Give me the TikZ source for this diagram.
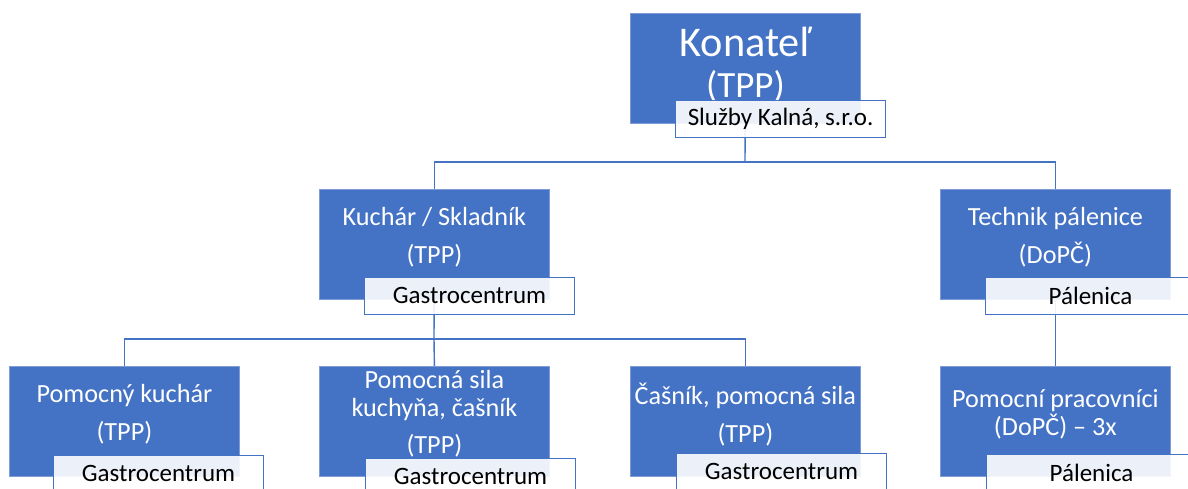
\documentclass[tikz,border=0pt]{standalone}
\usepackage{fontspec}
\setmainfont{Carlito}
\usetikzlibrary{positioning,backgrounds}

\definecolor{boxblue}{HTML}{4472C4}
\definecolor{boxedge}{HTML}{7F9CD6}

\tikzset{
  unit/.style={draw=boxedge, line width=0.8, fill=boxblue, minimum width=230, minimum height=110,
    inner sep=0, anchor=north west},
  unittext/.style={text=white, align=center, font=\fontsize{26.2}{28.5}\selectfont},
  place/.style={draw=boxblue, line width=1.1, fill=white, fill opacity=0.9, text opacity=1,
    minimum width=210, minimum height=37, inner sep=0, anchor=north west,
    font=\fontsize{25}{28}\selectfont},
  link/.style={draw=boxblue, line width=1.4}
}

\begin{document}
\begin{tikzpicture}[x=1pt, y=-1pt]
  % Picture frame, the same size as the reference
  \useasboundingbox (0,0) rectangle (1188,488);
  \clip (0,0) rectangle (1188,488);

  % Top: the manager
  \node[unit] (boss) at (630,13) {};
  \node[text=white, font=\fontsize{42.3}{44}\selectfont] (boss-a) at ([yshift=26]boss.center) {Konateľ};
  \node[text=white, font=\fontsize{37}{40}\selectfont] (boss-b) at ([yshift=-18]boss.center) {(TPP)};
  \node[place] (boss-p) at ([xshift=45, yshift=24]boss.south west) {Služby Kalná, s.r.o.};

  % Second row
  \node[unit] (kuch) at (319,189) {};
  \node[unittext] (kuch-t) at ([yshift=7]kuch.center) {Kuchár / Skladník\\[10pt](TPP)};
  \node[place] (kuch-p) at ([xshift=45, yshift=23]kuch.south west) {Gastrocentrum};

  \node[unit] (tech) at (940,189) {};
  \node[unittext] (tech-t) at ([yshift=7]tech.center) {Technik pálenice\\[10pt](DoPČ)};
  \node[place] (tech-p) at ([xshift=45, yshift=23]tech.south west) {Pálenica};

  % Third row
  \node[unit] (pkuch) at (9,366) {};
  \node[unittext] (pkuch-t) at ([yshift=7]pkuch.center) {Pomocný kuchár\\[10pt](TPP)};
  \node[place] (pkuch-p) at ([xshift=44, yshift=22]pkuch.south west) {Gastrocentrum};

  \node[unit] (psila) at (319,366) {};
  \node[unittext] (psila-t) at ([yshift=8]psila.center) {Pomocná sila\\kuchyňa, čašník\\[8pt](TPP)};
  \node[place] (psila-p) at ([xshift=46, yshift=19]psila.south west) {Gastrocentrum};

  \node[unit] (cas) at (630,366) {};
  \node[unittext] (cas-t) at ([yshift=7]cas.center) {Čašník, pomocná sila\\[10pt](TPP)};
  \node[place] (cas-p) at ([xshift=46, yshift=24]cas.south west) {Gastrocentrum};

  \node[unit] (ppra) at (940,366) {};
  \node[unittext] (ppra-t) at ([yshift=7]ppra.center) {Pomocní pracovníci\\(DoPČ) -- 3x};
  \node[place] (ppra-p) at ([xshift=46, yshift=23]ppra.south west) {Pálenica};

  % Connectors, behind the boxes
  \coordinate (bus1) at (745,162);
  \coordinate (bus2) at (434,339);
  \begin{scope}[on background layer]
    \draw[link] (boss.center) -- (bus1);
    \draw[link] (bus1) -| (kuch.north);
    \draw[link] (bus1) -| (tech.north);
    \draw[link] (kuch.center) -- (bus2);
    \draw[link] (bus2) -| (pkuch.north);
    \draw[link] (bus2) -- (psila.north);
    \draw[link] (bus2) -| (cas.north);
    \draw[link] (tech.center) -- (ppra.north);
  \end{scope}
\end{tikzpicture}
\end{document}
